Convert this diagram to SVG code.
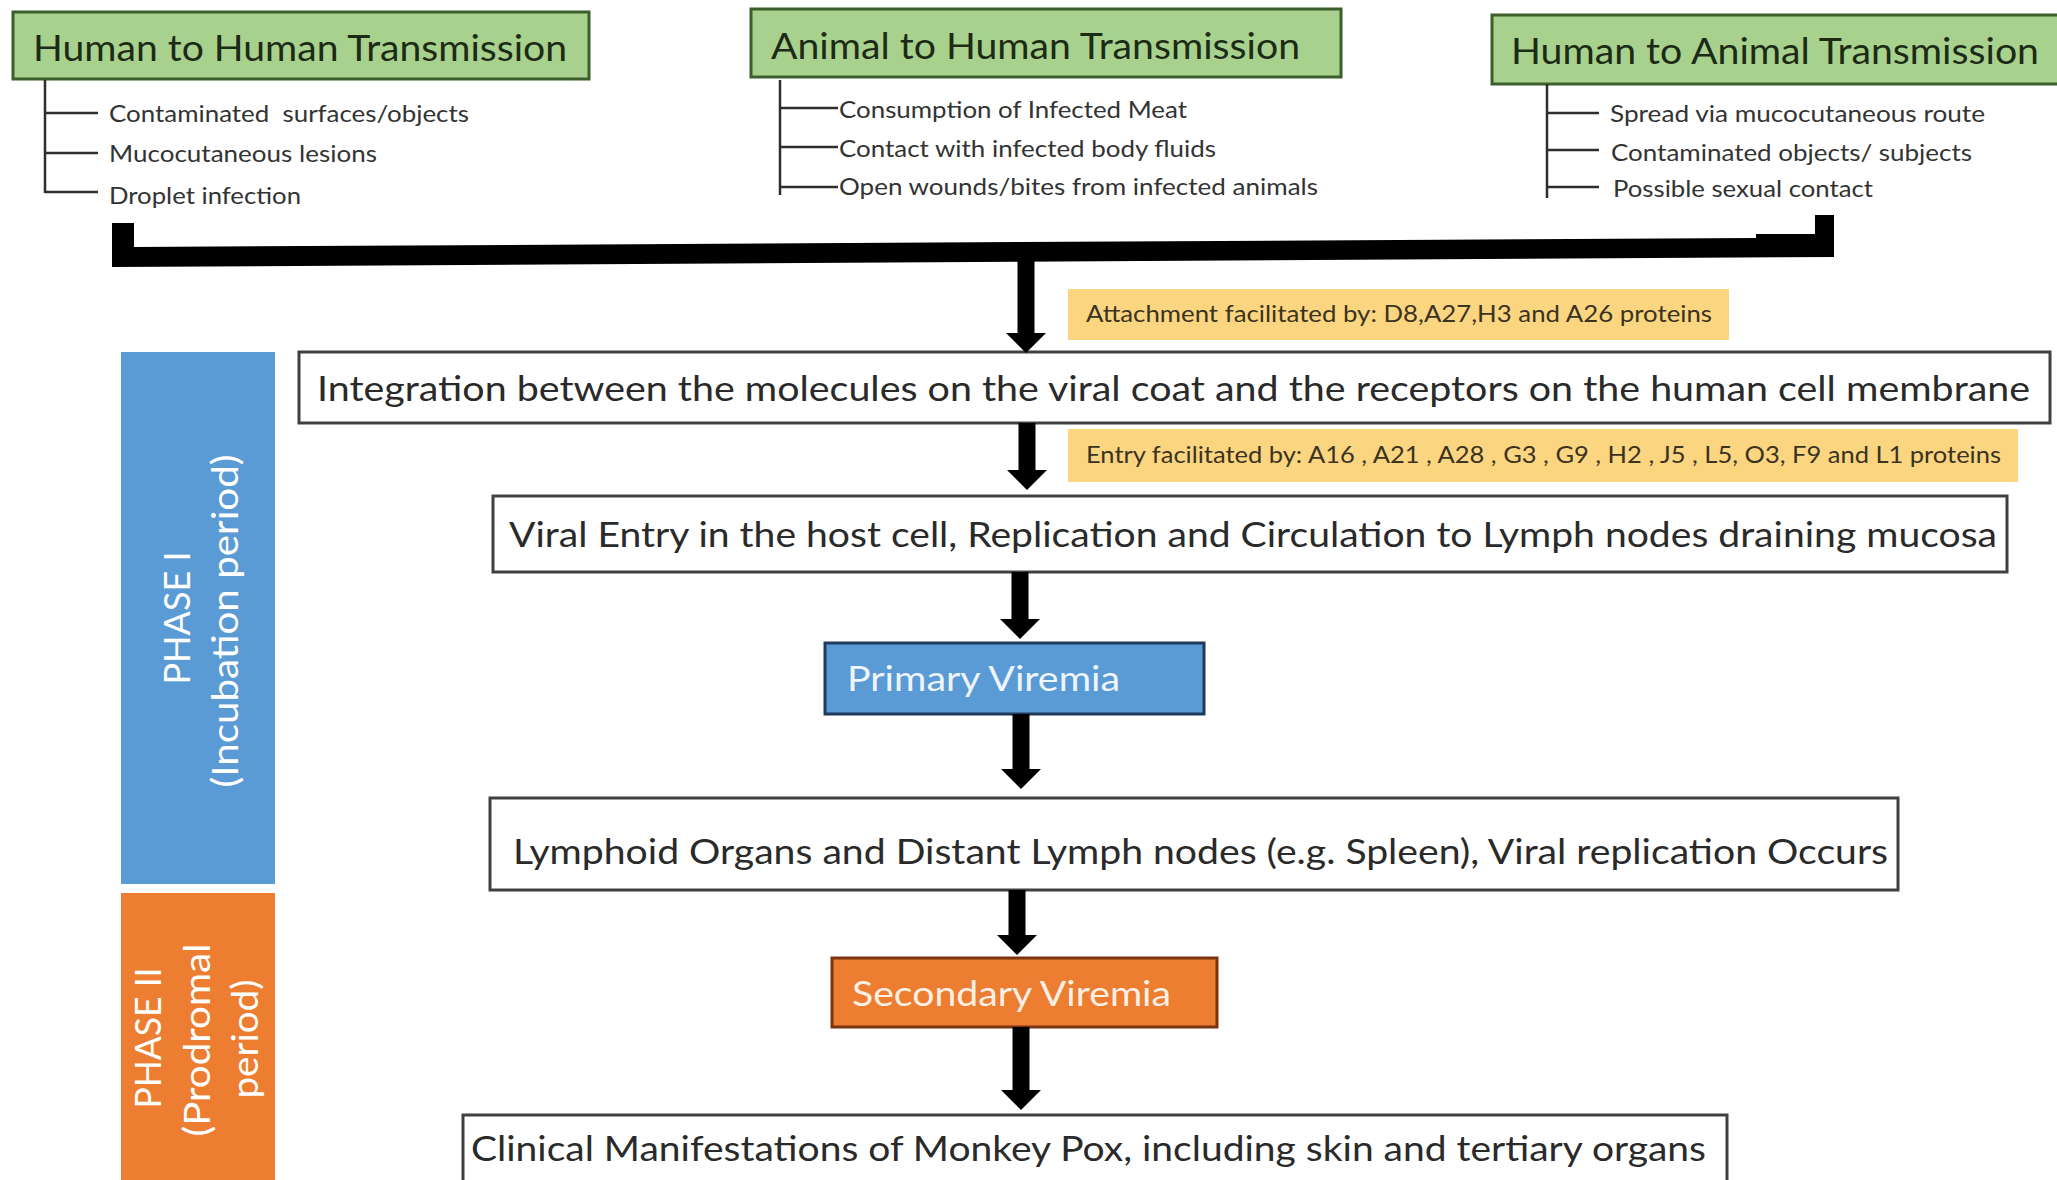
<svg xmlns="http://www.w3.org/2000/svg" width="2057" height="1180" viewBox="0 0 2057 1180">
<defs>
<marker id="ah" viewBox="0 0 20 40" refX="0" refY="20" markerWidth="20" markerHeight="40" markerUnits="userSpaceOnUse" orient="auto">
<path d="M0,0 L20,20 L0,40 Z" fill="#000"/>
</marker>
</defs>
<style>
text{font-family:Lato,"Open Sans","Liberation Sans",sans-serif;}
.hr{fill:#a9d18e;stroke:#3b5e2b;stroke-width:3;}
.ht{font-size:36px;fill:#1c2b16;}
.tree{stroke:#2e2e2e;stroke-width:2.5;fill:none;}
.sub{font-size:24px;fill:#333;white-space:pre;}
.box rect{fill:#fff;stroke:#404040;stroke-width:3;}
.box text{font-size:34px;fill:#2a2a2a;}
.note rect{fill:#fcd581;stroke:none;}
.note text{font-size:23px;fill:#3a3320;}
.phase rect{stroke:none;}
.phase text{font-size:36px;fill:#fff;text-anchor:middle;}
.arr{stroke:#000;stroke-width:17;fill:none;marker-end:url(#ah);}
</style>

<g id="h2h">
<rect class="hr" x="13" y="12" width="576" height="67"/>
<text class="ht" x="33" y="61" textLength="534" lengthAdjust="spacingAndGlyphs">Human to Human Transmission</text>
<path class="tree" d="M45,80 V193 M45,113 H98 M45,153 H98 M45,192 H98"/>
<text class="sub" x="109" y="122" textLength="360" lengthAdjust="spacingAndGlyphs" xml:space="preserve">Contaminated  surfaces/objects</text>
<text class="sub" x="109" y="162" textLength="268" lengthAdjust="spacingAndGlyphs">Mucocutaneous lesions</text>
<text class="sub" x="109" y="204" textLength="192" lengthAdjust="spacingAndGlyphs">Droplet infection</text>
</g>

<g id="a2h">
<rect class="hr" x="751" y="9" width="590" height="68"/>
<text class="ht" x="771" y="59" textLength="529" lengthAdjust="spacingAndGlyphs">Animal to Human Transmission</text>
<path class="tree" d="M780,80 V195 M780,108 H838 M780,147 H838 M780,187 H838"/>
<text class="sub" x="839" y="118" textLength="348" lengthAdjust="spacingAndGlyphs">Consumption of Infected Meat</text>
<text class="sub" x="839" y="157" textLength="377" lengthAdjust="spacingAndGlyphs">Contact with infected body fluids</text>
<text class="sub" x="839" y="195" textLength="479" lengthAdjust="spacingAndGlyphs">Open wounds/bites from infected animals</text>
</g>

<g id="h2a">
<rect class="hr" x="1492" y="15" width="580" height="69"/>
<text class="ht" x="1511" y="64" textLength="528" lengthAdjust="spacingAndGlyphs">Human to Animal Transmission</text>
<path class="tree" d="M1547,84 V198 M1547,113 H1599 M1547,150 H1599 M1547,187 H1599"/>
<text class="sub" x="1610" y="122" textLength="375" lengthAdjust="spacingAndGlyphs">Spread via mucocutaneous route</text>
<text class="sub" x="1611" y="161" textLength="361" lengthAdjust="spacingAndGlyphs">Contaminated objects/ subjects</text>
<text class="sub" x="1613" y="197" textLength="260" lengthAdjust="spacingAndGlyphs">Possible sexual contact</text>
</g>

<g id="phase1" class="phase">
<rect x="121" y="352" width="154" height="532" fill="#5b9bd5"/>
<text transform="translate(190,618) rotate(-90)">PHASE I</text>
<text transform="translate(238,621) rotate(-90)" textLength="333" lengthAdjust="spacingAndGlyphs">(Incubation period)</text>
</g>

<g id="phase2" class="phase">
<rect x="121" y="893" width="154" height="290" fill="#ed7d31"/>
<text transform="translate(161,1038) rotate(-90)" textLength="141" lengthAdjust="spacingAndGlyphs">PHASE II</text>
<text transform="translate(210,1040) rotate(-90)" textLength="193" lengthAdjust="spacingAndGlyphs">(Prodromal</text>
<text transform="translate(258,1039) rotate(-90)" textLength="119" lengthAdjust="spacingAndGlyphs">period)</text>
</g>

<g id="note-attach" class="note">
<rect x="1068" y="289" width="661" height="51"/>
<text x="1086" y="322" textLength="626" lengthAdjust="spacingAndGlyphs">Attachment facilitated by: D8,A27,H3 and A26 proteins</text>
</g>

<g id="integration" class="box">
<rect x="299" y="352" width="1751" height="71"/>
<text x="317" y="401" textLength="1713" lengthAdjust="spacingAndGlyphs">Integration between the molecules on the viral coat and the receptors on the human cell membrane</text>
</g>

<g id="note-entry" class="note">
<rect x="1068" y="429" width="950" height="53"/>
<text x="1086" y="463" textLength="915" lengthAdjust="spacingAndGlyphs">Entry facilitated by: A16 , A21 , A28 , G3 , G9 , H2 , J5 , L5, O3, F9 and L1 proteins</text>
</g>

<g id="viral-entry" class="box">
<rect x="493" y="496" width="1514" height="76"/>
<text x="509" y="547" textLength="1488" lengthAdjust="spacingAndGlyphs">Viral Entry in the host cell, Replication and Circulation to Lymph nodes draining mucosa</text>
</g>

<g id="primary">
<rect x="825" y="643" width="379" height="71" fill="#5b9bd5" stroke="#1f3a5f" stroke-width="3"/>
<text x="847" y="691" style="font-size:34px;fill:#eef5fc" textLength="273" lengthAdjust="spacingAndGlyphs">Primary Viremia</text>
</g>

<g id="lymphoid" class="box">
<rect x="490" y="798" width="1408" height="92"/>
<text x="513" y="864" textLength="1375" lengthAdjust="spacingAndGlyphs">Lymphoid Organs and Distant Lymph nodes (e.g. Spleen), Viral replication Occurs</text>
</g>

<g id="secondary">
<rect x="832" y="958" width="385" height="69" fill="#ed7d31" stroke="#7a3510" stroke-width="3"/>
<text x="852" y="1006" style="font-size:34px;fill:#fdf0e4" textLength="319" lengthAdjust="spacingAndGlyphs">Secondary Viremia</text>
</g>

<g id="clinical" class="box">
<rect x="463" y="1115" width="1264" height="80"/>
<text x="471" y="1161" textLength="1235" lengthAdjust="spacingAndGlyphs">Clinical Manifestations of Monkey Pox, including skin and tertiary organs</text>
</g>

<g id="connectors">
<path d="M112,223 H134 V247 L1756,238 V234 H1815 V215 H1834 V257 L112,267 Z" fill="#000"/>
<line class="arr" x1="1026" y1="255" x2="1026" y2="333"/>
<line class="arr" x1="1027" y1="423" x2="1027" y2="470"/>
<line class="arr" x1="1020" y1="572" x2="1020" y2="619"/>
<line class="arr" x1="1021" y1="714" x2="1021" y2="769"/>
<line class="arr" x1="1017" y1="890" x2="1017" y2="935"/>
<line class="arr" x1="1021" y1="1027" x2="1021" y2="1090"/>
</g>
</svg>
